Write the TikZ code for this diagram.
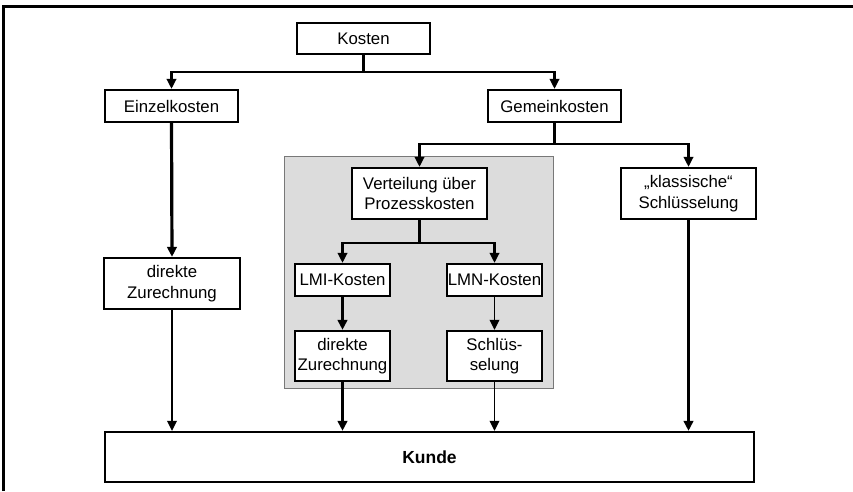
\documentclass[tikz,border=0pt]{standalone}
\usepackage{fontspec}
\setmainfont{Liberation Sans}
\usetikzlibrary{arrows.meta}

\definecolor{panelgray}{RGB}{220,220,220}
\definecolor{panelline}{RGB}{120,120,120}

\begin{document}
\begin{tikzpicture}[
  x=1pt, y=-1pt,
  every node/.style={font=\fontsize{16.8}{20.5}\selectfont},
  box/.style={draw, line width=2.3pt, fill=white, align=center,
              inner sep=0pt, anchor=center},
  tip/.style={-{Triangle[length=10pt,width=9.5pt]}},
  conn/.style={line width=2.2pt},
  heavy/.style={line width=3.2pt},
  light/.style={line width=1.8pt},
]
\useasboundingbox (0,0) rectangle (853,491);

% outer frame (left and top edges only)
\draw[line width=2.5pt] (3.5,491) -- (3.5,6.5) -- (853,6.5);

% shaded panel for the process-cost branch
\draw[panelline, fill=panelgray, line width=1pt] (284,156) rectangle (553,388);

% nodes
\node[box, minimum width=133pt, minimum height=31pt] (kosten) at (363.5,38.5) {Kosten};
\node[box, minimum width=133pt, minimum height=32pt] (einzel) at (171.5,106) {Einzelkosten};
\node[box, minimum width=133pt, minimum height=32pt] (gemein) at (554.5,106) {Gemeinkosten};
\node[box, minimum width=135pt, minimum height=51pt] (vert) at (419.5,193.5) {Verteilung über\\Prozesskosten};
\node[box, minimum width=135pt, minimum height=51pt] (klass) at (688.5,193.5) {„klassische“\\Schlüsselung};
\node[box, minimum width=136pt, minimum height=51pt] (dirA) at (172,283.5) {direkte\\Zurechnung};
\node[box, minimum width=95pt, minimum height=32pt] (lmi) at (342.5,280) {LMI-Kosten};
\node[box, minimum width=95pt, minimum height=32pt] (lmn) at (494.5,280) {LMN-Kosten};
\node[box, minimum width=95pt, minimum height=50pt] (dirB) at (342.5,356) {direkte\\Zurechnung};
\node[box, minimum width=95pt, minimum height=50pt] (schl) at (494.5,356) {Schlüs-\\selung};
\node[box, minimum width=649pt, minimum height=50pt, font=\fontsize{17.5}{21}\selectfont\bfseries] (kunde) at (429.5,457) {Kunde};

% branch points
\coordinate (s1) at (kosten.south |- 0,72);
\coordinate (s2) at (gemein.south |- 0,144);
\coordinate (s3) at (vert.south |- 0,243);

% cost tree
\draw[conn] (kosten.south) -- (s1);
\draw[conn, tip] (s1) -| (einzel.north);
\draw[conn, tip] (s1) -| (gemein.north);
\draw[conn] (gemein.south) -- (s2);
\draw[conn, tip] (s2) -| (vert.north);
\draw[conn, tip] (s2) -| (klass.north);
\draw[conn] (vert.south) -- (s3);
\draw[conn, tip] (s3) -| (lmi.north);
\draw[conn, tip] (s3) -| (lmn.north);

% allocation paths
\draw[heavy, tip] (einzel.south) -- (dirA.north);
\draw[heavy, tip] (lmi.south) -- (dirB.north);
\draw[light, tip] (lmn.south) -- (schl.north);

% into the customer
\draw[light, tip] (dirA.south) -- (dirA.south |- kunde.north);
\draw[heavy, tip] (dirB.south) -- (dirB.south |- kunde.north);
\draw[light, tip] (schl.south) -- (schl.south |- kunde.north);
\draw[heavy, tip] (klass.south) -- (klass.south |- kunde.north);
\end{tikzpicture}
\end{document}
